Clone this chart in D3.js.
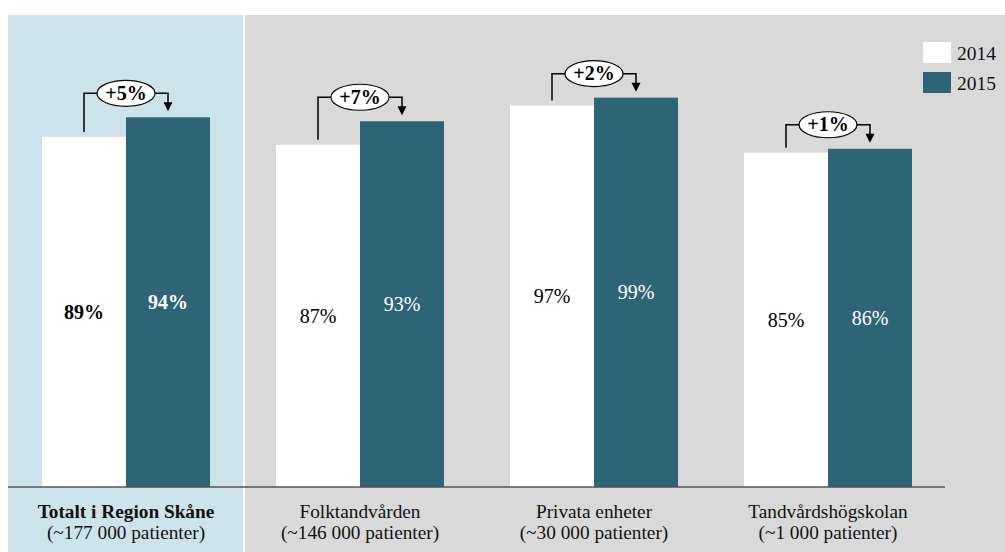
<!DOCTYPE html>
<html>
<head>
<meta charset="utf-8">
<script src="https://cdn.jsdelivr.net/npm/d3@7"></script>
<style>
  html, body { margin: 0; padding: 0; background: #fff; }
</style>
</head>
<body>
<div id="chart"></div>
<script>
const categories = ['Totalt i Region Skåne', 'Folktandvården', 'Privata enheter', 'Tandvårdshögskolan']
const patients = ['(~177 000 patienter)', '(~146 000 patienter)', '(~30 000 patienter)', '(~1 000 patienter)']
const years = ['2014', '2015']
const values2014 = [89, 87, 97, 85]
const values2015 = [94, 93, 99, 86]
const changes = ['+5%', '+7%', '+2%', '+1%']

const width = 1005, height = 552
const colors = { '2014': '#ffffff', '2015': '#2d6577' }
const serif = "'Liberation Serif', 'Times New Roman', Times, 'DejaVu Serif', serif"

const svg = d3.select('#chart').append('svg')
    .attr('width', width)
    .attr('height', height)
    .style('font-family', serif)
    .attr('font-family', serif)

// background panels
svg.append('rect').attr('x', 8).attr('y', 15).attr('width', 235).attr('height', height - 15).attr('fill', '#cde3eb')
svg.append('rect').attr('x', 245).attr('y', 15).attr('width', width - 245).attr('height', height - 15).attr('fill', '#d9d9d9')

let x = d3.scaleBand().domain(categories).range([9, 945])
let xi = d3.scaleBand().domain(years).range([33, 201])
let y = d3.scaleLinear().domain([0, 100]).range([487, 93.7])

const rows = categories.map((c, i) => ({ cat: c, sub: patients[i], v: [values2014[i], values2015[i]], change: changes[i], bold: i === 0 }))

const g = svg.selectAll('g.group')
    .data(rows)
    .enter().append('g')
    .attr('class', 'group')
    .attr('transform', d => `translate(${x(d.cat)},0)`)

// bars
g.selectAll('rect.bar')
    .data(d => years.map((yr, j) => ({ yr: yr, v: d.v[j], bold: d.bold })))
    .enter().append('rect')
    .attr('class', 'bar')
    .attr('x', d => xi(d.yr))
    .attr('y', d => y(d.v))
    .attr('width', xi.bandwidth())
    .attr('height', d => y(0) - y(d.v))
    .attr('fill', d => colors[d.yr])

// value labels in middle of bars
g.selectAll('text.val')
    .data(d => years.map((yr, j) => ({ yr: yr, v: d.v[j], bold: d.bold })))
    .enter().append('text')
    .attr('class', 'val')
    .attr('x', d => xi(d.yr) + xi.bandwidth() / 2)
    .attr('y', d => (y(d.v) + y(0)) / 2 + 7)
    .attr('text-anchor', 'middle')
    .attr('font-size', 20)
    .attr('font-weight', d => d.bold ? 'bold' : 'normal')
    .attr('fill', d => d.yr === '2015' ? '#ffffff' : '#000000')
    .text(d => d.v + '%')

// change annotations
g.append('g').attr('class', 'change').each(function (d) {
    const a = d3.select(this)
    const x0 = xi('2014') + xi.bandwidth() / 2
    const x1 = xi('2015') + xi.bandwidth() / 2
    const cx = (x0 + x1) / 2
    const ya = y(d.v[1]) - 24
    a.append('path')
        .attr('d', `M${x0},${y(d.v[0]) - 5}V${ya}H${x1}V${y(d.v[1]) - 14}`)
        .attr('fill', 'none')
        .attr('stroke', '#000')
        .attr('stroke-width', 1.5)
    a.append('path')
        .attr('d', `M${x1 - 4.5},${y(d.v[1]) - 15}L${x1 + 4.5},${y(d.v[1]) - 15}L${x1},${y(d.v[1]) - 6}Z`)
        .attr('fill', '#000')
    a.append('ellipse')
        .attr('cx', cx).attr('cy', ya)
        .attr('rx', 29).attr('ry', 13)
        .attr('fill', '#fff')
        .attr('stroke', '#000')
        .attr('stroke-width', 1.2)
    a.append('text')
        .attr('x', cx).attr('y', ya + 6.5)
        .attr('text-anchor', 'middle')
        .attr('font-size', 20)
        .attr('font-weight', 'bold')
        .text(d.change)
})

// baseline
svg.append('line')
    .attr('x1', 8).attr('x2', 945)
    .attr('y1', y(0)).attr('y2', y(0))
    .attr('stroke', '#555')
    .attr('stroke-width', 1.5)

// category labels
const lab = svg.selectAll('text.cat')
    .data(rows)
    .enter().append('text')
    .attr('class', 'cat')
    .attr('text-anchor', 'middle')
    .attr('font-size', 19.3)
    .attr('fill', '#111')
lab.append('tspan')
    .attr('x', d => x(d.cat) + x.bandwidth() / 2)
    .attr('y', 518)
    .attr('font-weight', d => d.bold ? 'bold' : 'normal')
    .text(d => d.cat)
lab.append('tspan')
    .attr('x', d => x(d.cat) + x.bandwidth() / 2)
    .attr('y', 539)
    .text(d => d.sub)

// legend
const leg = svg.selectAll('g.legend')
    .data(years)
    .enter().append('g')
    .attr('class', 'legend')
    .attr('transform', (d, i) => `translate(923,${42 + i * 30})`)
leg.append('rect')
    .attr('width', 28).attr('height', 21)
    .attr('fill', d => colors[d])
leg.append('text')
    .attr('x', 34).attr('y', 18)
    .attr('font-size', 19.5)
    .attr('fill', '#111')
    .text(d => d)
</script>
</body>
</html>
